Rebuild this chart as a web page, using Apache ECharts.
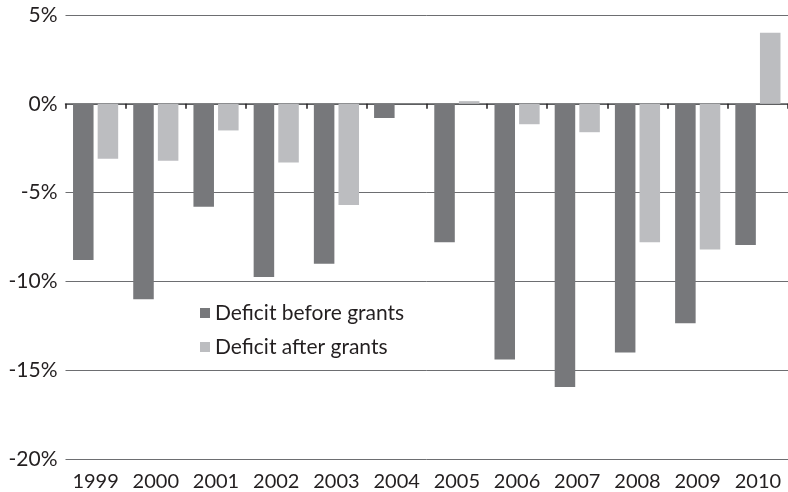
<!DOCTYPE html>
<html>
<head>
<meta charset="utf-8">
<title>Deficit before and after grants</title>
<script src="https://cdn.jsdelivr.net/npm/echarts@6/dist/echarts.min.js"></script>
<style>
  html, body { margin: 0; padding: 0; background: #fff; overflow: hidden; }
  #chart { width: 788px; height: 492px; }
</style>
</head>
<body>
<div id="chart"></div>
<script>
// data (percent of GDP)
const years = ['1999', '2000', '2001', '2002', '2003', '2004', '2005', '2006', '2007', '2008', '2009', '2010'];
const beforeGrants = [-8.8, -11.0, -5.8, -9.75, -9.0, -0.8, -7.8, -14.4, -15.95, -14.0, -12.35, -7.95];
const afterGrants = [-3.1, -3.2, -1.5, -3.3, -5.7, 0, 0.15, -1.15, -1.6, -7.8, -8.2, 4.0];
const yTicks = [-20, -15, -10, -5, 0, 5];

const darkGrey = '#77787b';
const lightGrey = '#bcbdc0';
const textColor = '#231f20';
const fontName = 'Lato, "Open Sans", sans-serif';

const chart = echarts.init(document.getElementById('chart'));

const option = {
  backgroundColor: '#ffffff',
  animation: false,
  grid: {
    left: 65.5,
    right: -4,
    top: 15,
    bottom: 33,
    containLabel: false
  },
  legend: {
    orient: 'vertical',
    left: 195,
    top: 297,
    icon: 'rect',
    itemWidth: 10,
    itemHeight: 10,
    itemGap: 12,
    textStyle: {
      color: textColor,
      fontSize: 21,
      fontFamily: fontName,
      lineHeight: 22
    },
    data: ['Deficit before grants', 'Deficit after grants']
  },
  xAxis: [
    {
      // labels along the bottom
      type: 'category',
      data: years,
      position: 'bottom',
      axisLine: { show: false, onZero: false },
      axisTick: { show: false },
      axisLabel: {
        color: textColor,
        fontSize: 20,
        fontFamily: fontName,
        margin: 13,
        interval: 0
      },
      splitLine: { show: false }
    },
    {
      // zero line with the little ticks below it
      type: 'category',
      data: years,
      position: 'top',
      axisLine: {
        show: true,
        onZero: true,
        lineStyle: { color: '#58595b', width: 1.5 }
      },
      axisTick: {
        show: true,
        inside: true,
        length: 5,
        lineStyle: { color: '#231f20', width: 1.5 }
      },
      axisLabel: { show: false },
      splitLine: { show: false }
    }
  ],
  yAxis: {
    type: 'value',
    min: yTicks[0],
    max: yTicks[yTicks.length - 1],
    interval: 5,
    axisLine: { show: false },
    axisTick: { show: false },
    axisLabel: {
      color: textColor,
      fontSize: 21,
      fontFamily: fontName,
      margin: 8,
      padding: [8, 0, 0, 0],
      formatter: '{value}%'
    },
    splitLine: {
      show: true,
      lineStyle: { color: '#6d6e71', width: 1 }
    }
  },
  series: [
    {
      name: 'Deficit before grants',
      type: 'bar',
      xAxisIndex: 0,
      data: beforeGrants,
      barGap: '20%',
      barCategoryGap: '25%',
      itemStyle: { color: darkGrey }
    },
    {
      name: 'Deficit after grants',
      type: 'bar',
      xAxisIndex: 0,
      data: afterGrants,
      barGap: '20%',
      barCategoryGap: '25%',
      itemStyle: { color: lightGrey }
    }
  ]
};

chart.setOption(option);
</script>
</body>
</html>
